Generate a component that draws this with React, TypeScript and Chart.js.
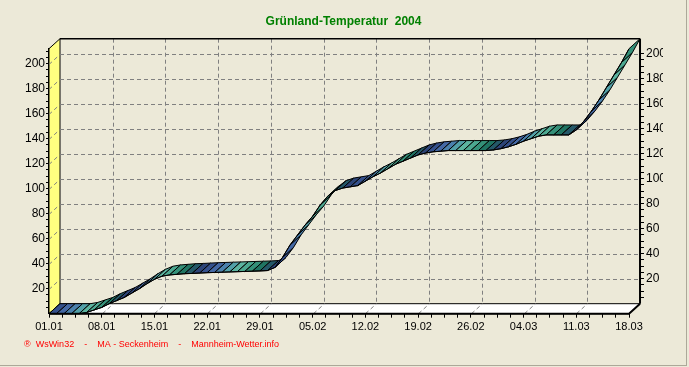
import React, { useEffect, useRef } from 'react';
import { Chart, registerables } from 'chart.js';

Chart.register(...registerables);

// ---- data ----
const dateLabels = ['01.01', '08.01', '15.01', '22.01', '29.01', '05.02', '12.02', '19.02', '26.02', '04.03', '11.03', '18.03'];
const days = Array.from({ length: 78 }, (_, i) => i); // day index 0 = 01.01 ... 77 = 18.03
const sumValues = [
  0, 0, 0, 0, 0, 1, 3, 5, 8, 10.5,
  13, 16.5, 20, 24, 27.5, 30, 31, 31.5, 32, 32.2,
  32.5, 32.8, 33, 33.2, 33.4, 33.6, 33.8, 34, 34.2, 34.5,
  37, 45, 55, 63, 71, 78, 87, 94, 98.5, 100.5,
  101.5, 102.5, 106, 109.5, 112.5, 116, 119.5, 122, 124.5, 127,
  128.5, 129.5, 130, 130.5, 130.5, 130.5, 130.5, 130.5, 130.5, 131,
  132, 133.5, 135.5, 138, 140, 142, 143, 143, 143, 143,
  147, 154, 162, 171, 181, 191, 201, 212,
];
const gridValues = [20, 40, 60, 80, 100, 120, 140, 160, 180, 200];
const weekDays = [0, 7, 14, 21, 28, 35, 42, 49, 56, 63, 70, 77];

const titleText = 'Grünland-Temperatur  2004';
const footerText = '®  WsWin32    -    MA - Seckenheim    -    Mannheim-Wetter.info';

const ribbonPalette = ['#34508C', '#4468A4', '#4A80AC', '#52A0A8', '#5CB4A0', '#4CA890', '#349078', '#1F7462', '#245868', '#2C4478'];

const DX = 11;
const DY = -10;
const FONT = "'Liberation Sans', Arial, sans-serif";

const threeD = {
  id: 'threeD',
  beforeDatasetsDraw(chart: any) {
    const { ctx, chartArea: ca, scales } = chart;
    const xs = scales.x;
    const ys = scales.y;
    const L = ca.left;
    const B = ca.bottom;
    const T = ca.top;
    const R = xs.getPixelForValue(weekDays[weekDays.length - 1]);
    ctx.save();
    ctx.lineWidth = 1;
    ctx.strokeStyle = '#000';
    // yellow side wall
    ctx.beginPath();
    ctx.moveTo(L, B);
    ctx.lineTo(L, T);
    ctx.lineTo(L + DX, T + DY);
    ctx.lineTo(L + DX, B + DY);
    ctx.closePath();
    ctx.fillStyle = '#FFFF80';
    ctx.fill();
    ctx.stroke();
    // floor
    ctx.beginPath();
    ctx.moveTo(L, B);
    ctx.lineTo(L + DX, B + DY);
    ctx.lineTo(R + DX, B + DY);
    ctx.lineTo(R, B);
    ctx.closePath();
    ctx.fillStyle = '#FFFFFF';
    ctx.fill();
    ctx.stroke();
    // dashed grid
    ctx.setLineDash([4, 3]);
    ctx.strokeStyle = '#808080';
    gridValues.forEach((v) => {
      const py = Math.round(ys.getPixelForValue(v)) + 0.5;
      ctx.beginPath();
      ctx.moveTo(L + DX, py + DY);
      ctx.lineTo(R + DX, py + DY);
      ctx.stroke();
      ctx.beginPath();
      ctx.moveTo(L, py);
      ctx.lineTo(L + DX, py + DY);
      ctx.stroke();
    });
    weekDays.slice(1, -1).forEach((d) => {
      const px = Math.round(xs.getPixelForValue(d)) + 0.5;
      ctx.beginPath();
      ctx.moveTo(px + DX, T + DY);
      ctx.lineTo(px + DX, B + DY);
      ctx.stroke();
      ctx.beginPath();
      ctx.moveTo(px, B);
      ctx.lineTo(px + DX, B + DY);
      ctx.stroke();
    });
    ctx.setLineDash([]);
    // ribbon
    const meta = chart.getDatasetMeta(0);
    const pts = meta.data;
    ctx.strokeStyle = '#000';
    ctx.lineWidth = 1;
    ctx.lineJoin = 'round';
    for (let i = 0; i < pts.length - 1; i++) {
      const a = pts[i];
      const b = pts[i + 1];
      ctx.beginPath();
      ctx.moveTo(a.x, a.y);
      ctx.lineTo(b.x, b.y);
      ctx.lineTo(b.x + DX, b.y + DY);
      ctx.lineTo(a.x + DX, a.y + DY);
      ctx.closePath();
      ctx.fillStyle = ribbonPalette[i % ribbonPalette.length];
      ctx.fill();
      ctx.stroke();
    }
    ctx.restore();
  },
  afterDraw(chart: any) {
    const { ctx, chartArea: ca, scales } = chart;
    const xs = scales.x;
    const L = ca.left;
    const B = ca.bottom;
    const T = ca.top;
    const R = xs.getPixelForValue(weekDays[weekDays.length - 1]);
    ctx.save();
    ctx.strokeStyle = '#000';
    // back wall top & right edges
    ctx.lineWidth = 1.5;
    ctx.beginPath();
    ctx.moveTo(L + DX, T + DY);
    ctx.lineTo(R + DX, T + DY);
    ctx.stroke();
    ctx.lineWidth = 2;
    ctx.beginPath();
    ctx.moveTo(R + DX, T + DY);
    ctx.lineTo(R + DX, B + DY);
    ctx.stroke();
    // front bottom edge
    ctx.beginPath();
    ctx.moveTo(L, B);
    ctx.lineTo(R, B);
    ctx.lineTo(R + DX, B + DY);
    ctx.stroke();
    ctx.restore();
  },
};

export default function App() {
  const ref = useRef<HTMLCanvasElement | null>(null);

  useEffect(() => {
    if (!ref.current) return;
    const chart = new Chart(ref.current, {
      type: 'line',
      data: {
        datasets: [
          {
            data: days.map((d, i) => ({ x: d, y: sumValues[i] })),
            borderColor: '#000',
            borderWidth: 1,
            pointRadius: 0,
            tension: 0,
            fill: false,
            yAxisID: 'y',
          },
        ],
      },
      options: {
        responsive: false,
        animation: false,
        events: [],
        layout: { padding: { left: 24, right: 26, top: 0, bottom: 0 } },
        plugins: {
          legend: { display: false },
          tooltip: { enabled: false },
          title: {
            display: true,
            text: titleText,
            color: '#008000',
            font: { family: FONT, size: 12, weight: 'bold', lineHeight: 1.2 },
            padding: { top: 14.8, bottom: 19.5 },
          },
          subtitle: {
            display: true,
            position: 'bottom',
            align: 'start',
            text: footerText,
            color: '#FF0000',
            font: { family: FONT, size: 9, lineHeight: 1.2 },
            padding: { top: 0, bottom: 16.6 },
          },
        },
        scales: {
          x: {
            type: 'linear',
            min: 0,
            max: 77 + 77 * DX / 581,
            afterFit: (s: any) => { s.height = 25.9; },
            grid: { drawOnChartArea: false, drawTicks: true, tickLength: 4, tickColor: '#000' },
            border: { display: false },
            ticks: {
              stepSize: 1.75,
              autoSkip: false,
              includeBounds: false,
              maxRotation: 0,
              minRotation: 0,
              padding: 3,
              color: '#000',
              font: { family: FONT, size: 11 },
              callback: (v: any) => {
                const k = Math.round(Number(v) / 7);
                return Math.abs(Number(v) - 7 * k) < 1e-6 && k < dateLabels.length ? dateLabels[k] : '';
              },
            },
          },
          y: {
            type: 'linear',
            position: 'left',
            min: 0,
            max: 212,
            afterFit: (s: any) => { s.width = 25; },
            afterBuildTicks: (s: any) => { s.ticks = s.ticks.filter((t: any) => t.value > 0); },
            grid: { drawOnChartArea: false, drawTicks: true, tickLength: 3, tickColor: '#000' },
            border: { display: true, color: '#000', width: 2 },
            ticks: {
              stepSize: 5,
              autoSkip: false,
              includeBounds: false,
              padding: 1,
              color: '#000',
              font: { family: FONT, size: 12 },
              callback: (v: any) => (Number(v) % 20 === 0 ? String(v) : ''),
            },
          },
          y2: {
            type: 'linear',
            position: 'right',
            min: -8,
            max: 204,
            afterFit: (s: any) => { s.width = 23; },
            afterBuildTicks: (s: any) => { s.ticks = s.ticks.filter((t: any) => t.value > 0); },
            grid: { drawOnChartArea: false, drawTicks: true, tickLength: 4, tickColor: '#000' },
            border: { display: false },
            ticks: {
              stepSize: 5,
              autoSkip: false,
              includeBounds: false,
              padding: 2,
              color: '#000',
              font: { family: FONT, size: 12 },
              callback: (v: any) => (Number(v) % 20 === 0 ? String(v) : ''),
            },
          },
        },
      },
      plugins: [threeD],
    } as any);
    return () => chart.destroy();
  }, []);

  return (
    <div
      style={{
        position: 'absolute',
        left: 0,
        top: 0,
        width: 689,
        height: 367,
        background: '#ECE9D8',
        overflow: 'hidden',
      }}
    >
      <canvas ref={ref} width={689} height={367} style={{ display: 'block' }} />
      <div style={{ position: 'absolute', left: 0, top: 365, width: 687, height: 1, background: '#ACA899' }} />
      <div style={{ position: 'absolute', left: 686, top: 0, width: 1, height: 366, background: '#ACA899' }} />
    </div>
  );
}
